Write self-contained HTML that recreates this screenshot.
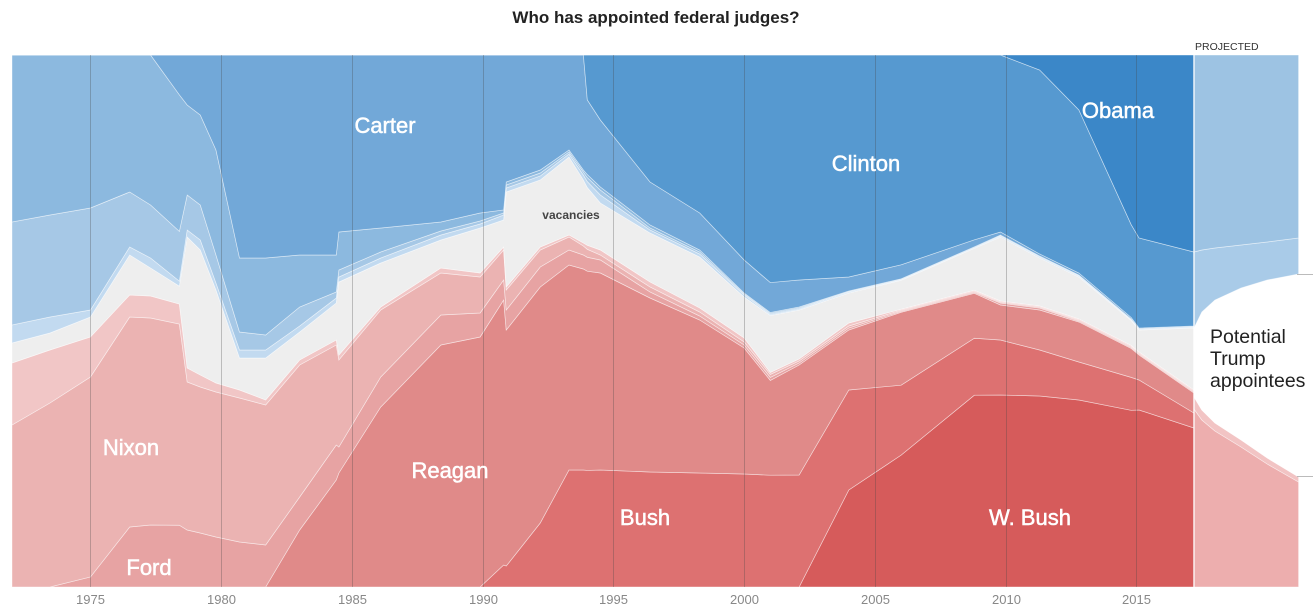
<!DOCTYPE html>
<html><head><meta charset="utf-8"><style>
html,body{margin:0;padding:0;background:#fff;}
svg{display:block;font-family:"Liberation Sans",Arial,sans-serif;}
.lbl{fill:#fff;font-size:22px;stroke:#fff;stroke-width:0.5px;}
</style></head><body>
<svg id="chart" width="1313" height="611" viewBox="0 0 1313 611" xmlns="http://www.w3.org/2000/svg">
<text x="656" y="23" text-anchor="middle" font-size="17" font-weight="bold" fill="#222">Who has appointed federal judges?</text>
<text x="1195" y="50" font-size="10.5" fill="#333">PROJECTED</text>
<g id="areas"></g>
<g id="proj"></g>
<g id="grid"></g>
<g id="xaxis"></g>
<line x1="1297" y1="274.5" x2="1313" y2="274.5" stroke="#bbb" stroke-width="1"/>
<line x1="1297" y1="476.5" x2="1313" y2="476.5" stroke="#bbb" stroke-width="1"/>
<text class="lbl" x="385" y="133" text-anchor="middle">Carter</text>
<text class="lbl" x="866" y="171" text-anchor="middle">Clinton</text>
<text class="lbl" x="1118" y="118" text-anchor="middle">Obama</text>
<text class="lbl" x="131" y="455" text-anchor="middle">Nixon</text>
<text class="lbl" x="450" y="478" text-anchor="middle">Reagan</text>
<text class="lbl" x="645" y="525" text-anchor="middle">Bush</text>
<text class="lbl" x="1030" y="525" text-anchor="middle">W. Bush</text>
<text class="lbl" x="149" y="575" text-anchor="middle">Ford</text>
<text x="571" y="219" text-anchor="middle" font-size="12" font-weight="bold" fill="#444">vacancies</text>
<text font-size="19.5" fill="#222"><tspan x="1210" y="343">Potential</tspan><tspan x="1210" y="365">Trump</tspan><tspan x="1210" y="387">appointees</tspan></text>
</svg>
<script>
const years = [1972.0,1973.45,1975.0,1976.5,1977.3,1978.4,1978.7,1979.2,1979.8,1980.7,1981.7,1983.0,1984.4,1984.5,1986.1,1988.4,1989.9,1990.8,1990.9,1992.2,1993.3,1993.85,1994.0,1994.5,1996.4,1998.3,2000.0,2001.0,2002.1,2004.0,2006.0,2008.8,2009.8,2011.3,2012.8,2014.8,2015.1,2017.2];
const wBush = [0,0,0,0,0,0,0,0,0,0,0,0,0,0,0,0,0,0,0,0,0,0,0,0,0,0,0,0,0,97,132,192,192,191,187,177,177,159];
const bush = [0,0,0,0,0,0,0,0,0,0,0,0,0,0,0,0,0,22,21,64,117,117,117,117,115,114,113,112,112,100,70,57,55,46,38,33,30,15];
const reagan = [0,0,0,0,0,0,0,0,0,0,0,57,107,114,180,242,250,265,236,236,205,201,200,197,174,153,126,95,110,60,73,45,35,40,40,29,25,20];
const ford = [0,0,10,60,62,62,57,54,50,45,42,33,35,26,30,30,24,20,20,20,15,14,14,13,6,4,3,3,2,2,1,1,2,2,1,1,1,1];
const nixon = [162,184,200,210,207,202,148,146,145,144,140,132,100,87,67,42,36,30,20,17,13,9,8,5,5,4,3,3,2,2,1,1,1,1,1,1,1,1];
const olderRep = [62,53,40,22,22,20,14,12,9,8,5,5,5,5,3,5,4,3,3,3,2,3,4,5,5,4,4,2,2,3,1,1,1,1,1,1,1,1];
const vacancies = [20,17,20,40,28,18,131,125,93,32,42,28,37,73,44,28,45,27,95,67,78,63,58,47,49,51,41,57,49,30,29,42,64,48,42,25,22,62];
const olderDem = [18,16,7,8,10,5,7,10,7,8,8,6,5,5,5,5,4,5,4,4,3,5,6,8,3,3,2,1,1,1,0.5,0.5,1,1,1,0.5,0.5,0.5];
const kennedy = [103,102,102,55,53,50,35,35,28,18,15,19,6,7,6,4,3,2,3,3,2,3,4,5,2,2,1,1,1,0.5,0.5,0.5,0.5,0.5,0.5,0.5,0.5,0.5];
const johnson = [167,160,153,137,150,137,90,90,105,74,77,52,37,38,24,9,8,3,3,3,2,2,3,3,3,2,1,1,1,0.5,0.5,0.5,0.5,0.5,0.5,0.5,0.5,0.5];
const carter = [0,0,0,0,0,40,50,60,95,203,203,200,200,177,173,167,158,155,127,115,95,115,75,67,43,37,33,30,27,14,14,7,3,2,2,1.5,0.5,0.5];
const clinton = [0,0,0,0,0,0,0,0,0,0,0,0,0,0,0,0,0,0,0,0,0,0,45,65,127,158,205,228,225,222,210,185,177,184,163,93,90,74];
const obama = [0,0,0,0,0,0,0,0,0,0,0,0,0,0,0,0,0,0,0,0,0,0,0,0,0,0,0,0,0,0,0,0,0,15,55,170,183,197];

const projYears = [2017.2,2017.5,2018,2019,2020,2021.2];
const projRed = [178,167,156,140,123,105];
const projRedEdge = [12,10,8,7,6,5];
const projTrump = [69,98,123,152,178,203];
const projBlueLow = [76,62,52,43,38,36];
const projBlueTop = [197,195,193,190,187,183];

const tickYears = [1975,1980,1985,1990,1995,2000,2005,2010,2015];

const NS = "http://www.w3.org/2000/svg";
const TOP = 55, BOT = 587;
function xScale(yr){ return 12 + (yr - 1972) * 26.15; }
function yScale(frac){ return BOT - frac * (BOT - TOP); }

function drawStack(group, xs, layers, colors, names){
  const n = xs.length;
  const totals = xs.map((_, i) => layers.reduce((s, L) => s + L[i], 0));
  let cum = new Array(n).fill(0);
  layers.forEach((L, li) => {
    const lower = cum.slice();
    const upper = cum.map((c, i) => c + L[i]);
    let d = "";
    for (let i = 0; i < n; i++) d += (i ? "L" : "M") + xScale(xs[i]).toFixed(2) + "," + yScale(upper[i] / totals[i]).toFixed(2);
    for (let i = n - 1; i >= 0; i--) d += "L" + xScale(xs[i]).toFixed(2) + "," + yScale(lower[i] / totals[i]).toFixed(2);
    d += "Z";
    const p = document.createElementNS(NS, "path");
    p.setAttribute("d", d);
    p.setAttribute("fill", colors[li]);
    p.setAttribute("stroke", "rgba(255,255,255,0.55)");
    p.setAttribute("stroke-width", "0.7");
    
    
    group.appendChild(p);
    cum = upper;
  });
}

drawStack(document.getElementById("areas"), years,
  [wBush, bush, reagan, ford, nixon, olderRep, vacancies, olderDem, kennedy, johnson, carter, clinton, obama],
  ["#d65b5b","#dd7171","#e08a89","#e7a3a3","#ebb3b2","#f1c6c6","#eeeeee","#c2daf0","#a6c8e6","#8cb9df","#72a8d8","#5699d0","#3b87c8"],
  ["area-w-bush","area-bush","area-reagan","area-ford","area-nixon","area-older-republican","area-vacancies","area-older-democrat","area-kennedy","area-johnson","area-carter","area-clinton","area-obama"]);

drawStack(document.getElementById("proj"), projYears,
  [projRed, projRedEdge, projTrump, projBlueLow, projBlueTop],
  ["#edaeae","#f2c4c4","#ffffff","#a9cbe8","#9dc3e3"],
  ["proj-republican","proj-republican-edge","proj-trump-appointees","proj-democrat-low","proj-democrat-top"]);

const sep = document.createElementNS(NS, "line");
sep.setAttribute("x1", xScale(2017.2)); sep.setAttribute("x2", xScale(2017.2));
sep.setAttribute("y1", TOP); sep.setAttribute("y2", BOT);
sep.setAttribute("stroke", "rgba(255,255,255,0.8)"); sep.setAttribute("stroke-width", "1.5");


document.getElementById("proj").appendChild(sep);

const grid = document.getElementById("grid"), xaxis = document.getElementById("xaxis");
tickYears.forEach(yr => {
  const x = Math.round(xScale(yr)) + 0.5;
  const l = document.createElementNS(NS, "line");
  l.setAttribute("x1", x); l.setAttribute("x2", x); l.setAttribute("y1", TOP); l.setAttribute("y2", BOT);
  l.setAttribute("stroke", "rgba(70,70,70,0.3)"); l.setAttribute("stroke-width", "1");
  
  
  grid.appendChild(l);
  const t = document.createElementNS(NS, "text");
  t.setAttribute("x", x); t.setAttribute("y", 604); t.setAttribute("text-anchor", "middle");
  t.setAttribute("font-size", "13"); t.setAttribute("fill", "#888");
  t.textContent = yr;
  
  
  xaxis.appendChild(t);
});
</script>
</body></html>
